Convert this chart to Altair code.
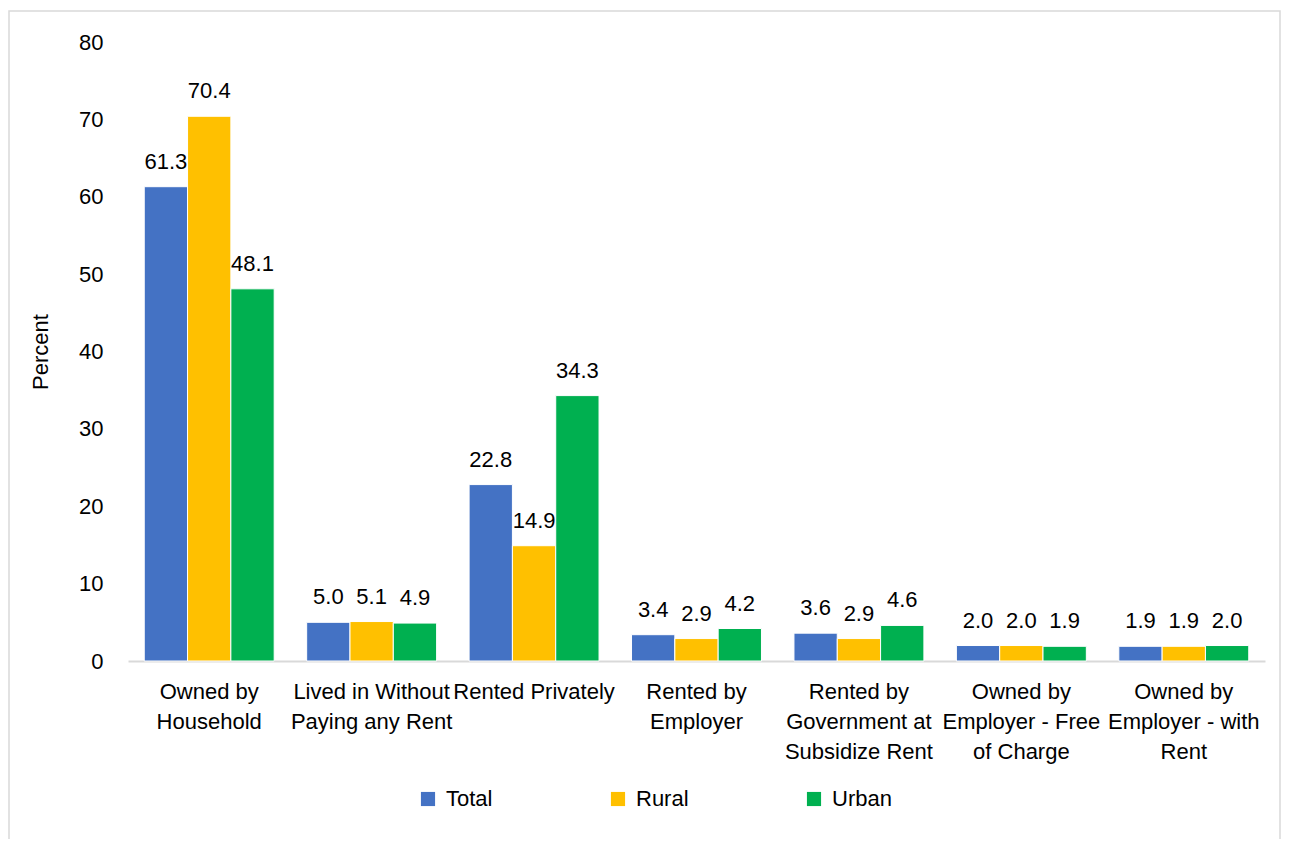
import altair as alt
import pandas as pd

categories = [
    "Owned by|Household",
    "Lived in Without|Paying any Rent",
    "Rented Privately",
    "Rented by|Employer",
    "Rented by|Government at|Subsidize Rent",
    "Owned by|Employer - Free|of Charge",
    "Owned by|Employer - with|Rent",
]
series = ["Total", "Rural", "Urban"]
total = [61.3, 5.0, 22.8, 3.4, 3.6, 2.0, 1.9]
rural = [70.4, 5.1, 14.9, 2.9, 2.9, 2.0, 1.9]
urban = [48.1, 4.9, 34.3, 4.2, 4.6, 1.9, 2.0]
colors = ["#4472C4", "#FFC000", "#00B050"]

rows = []
for i, c in enumerate(categories):
    for s, vals in zip(series, [total, rural, urban]):
        rows.append({"category": c, "series": s, "value": vals[i]})
df = pd.DataFrame(rows)

FONT = "Liberation Sans"
FS = 22

x = alt.X(
    "category:N",
    sort=categories,
    scale=alt.Scale(paddingInner=0.2, paddingOuter=0.1),
    axis=alt.Axis(
        title=None,
        labelExpr="split(datum.label, '|')",
        labelAngle=0,
        labelFontSize=FS,
        labelFont=FONT,
        labelColor="#000000",
        labelPadding=20,
        labelLineHeight=30,
        labelLimit=300,
        ticks=False,
        domainColor="#d9d9d9",
        domainWidth=2,
    ),
)
y = alt.Y(
    "value:Q",
    scale=alt.Scale(domain=[0, 80]),
    axis=alt.Axis(
        title="Percent",
        titleFont=FONT,
        titleFontSize=FS,
        titleFontWeight="normal",
        titleColor="#000000",
        titlePadding=26,
        values=list(range(0, 81, 10)),
        labelFontSize=FS,
        labelFont=FONT,
        labelColor="#000000",
        labelPadding=25,
        ticks=False,
        domain=False,
        grid=False,
    ),
)

bars = alt.Chart(df).mark_bar(stroke="white", strokeWidth=1).encode(
    x=x,
    xOffset=alt.XOffset("series:N", sort=series),
    y=y,
    color=alt.Color(
        "series:N",
        sort=series,
        scale=alt.Scale(domain=series, range=colors),
        legend=alt.Legend(
            title=None,
            orient="none",
            legendX=289,
            legendY=746,
            direction="horizontal",
            symbolType="square",
            symbolSize=200,
            symbolStrokeWidth=0,
            labelFontSize=FS,
            labelFont=FONT,
            labelColor="#000000",
            columnPadding=114,
            labelOffset=7,
        ),
    ),
)

labels = alt.Chart(df).mark_text(
    baseline="middle", dy=-25, fontSize=FS, font=FONT, color="#000000"
).encode(
    x=alt.X("category:N", sort=categories),
    xOffset=alt.XOffset("series:N", sort=series),
    y="value:Q",
    text=alt.Text("value:Q", format=".1f"),
)

border = alt.Chart(pd.DataFrame({"a": [0]})).mark_rect(
    fill=None, stroke="#d9d9d9", strokeWidth=1.5, clip=False
).encode(
    x=alt.value(-119), x2=alt.value(1152), y=alt.value(-31), y2=alt.value(800)
)

chart = (
    alt.layer(border, bars, labels)
    .properties(
        width=1137,
        height=619,
        background="white",
        autosize=alt.AutoSizeParams(type="none"),
        padding={"left": 120, "top": 34, "right": 20, "bottom": 178},
    )
    .configure_view(strokeWidth=0, stroke="transparent")
)

chart.save("out.html", embed_options={"renderer": "svg", "actions": False})
